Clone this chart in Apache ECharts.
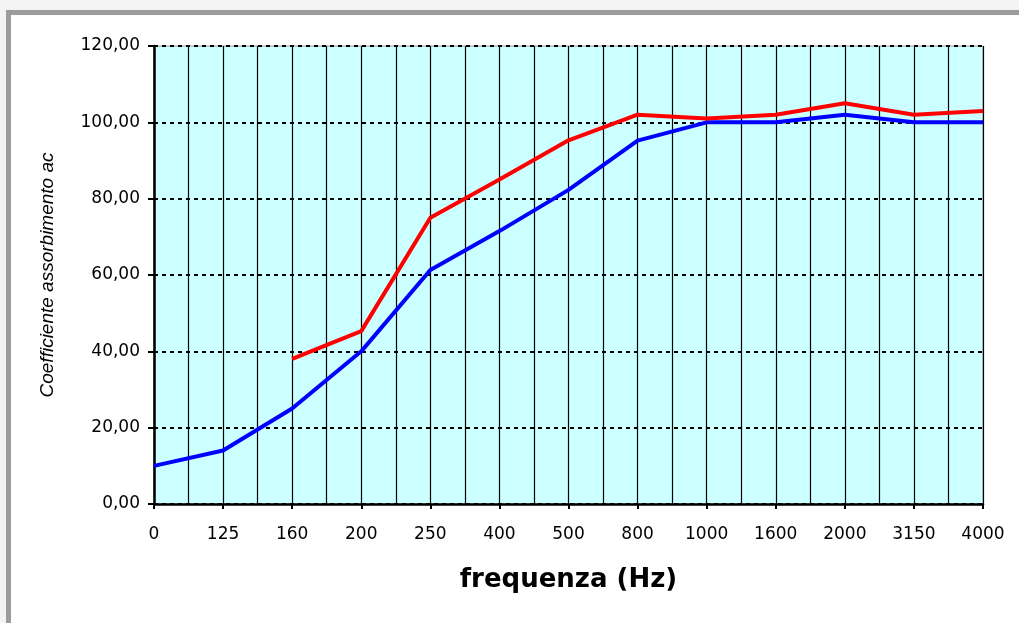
<!DOCTYPE html>
<html>
<head>
<meta charset="utf-8">
<script src="https://cdn.jsdelivr.net/npm/echarts@6/dist/echarts.min.js"></script>
<style>
  html, body { margin: 0; padding: 0; width: 1019px; height: 623px; overflow: hidden; background: #f3f3f3; }
  #frame { position: absolute; left: 6px; top: 10px; width: 1100px; height: 700px; background: #ffffff;
           border: 5px solid #9c9c9c; box-sizing: border-box; }
  #chart { position: absolute; left: 0; top: 0; width: 1019px; height: 623px; }
</style>
</head>
<body>
<div id="frame"></div>
<div id="chart"></div>
<script>
const categories = ['0', '125', '160', '200', '250', '400', '500', '800', '1000', '1600', '2000', '3150', '4000'];
const blueValues = [10, 14, 25, 40, 61.3, 71.5, 82.3, 95.2, 100, 100, 102, 100, 100];
const redValues  = [null, null, 38, 45.3, 75, 85, 95.3, 102, 101, 102, 105, 102, 103];
const yMin = 0, yMax = 120, yStep = 20;

const toPairs = arr => arr.map((v, i) => [i, v]);

const chart = echarts.init(document.getElementById('chart'), null, { renderer: 'canvas' });
chart.setOption({
  backgroundColor: 'transparent',
  animation: false,
  grid: { left: 154, top: 46, right: 36, bottom: 119, show: true, backgroundColor: '#CCFFFF', borderColor: '#a0a0a0', borderWidth: 1 },
  xAxis: {
    type: 'value', min: 0, max: categories.length - 1, interval: 1,
    name: 'frequenza (Hz)', nameLocation: 'middle', nameGap: 63,
    nameTextStyle: { fontFamily: 'DejaVu Sans', fontWeight: 'bold', fontSize: 26, color: '#000' },
    axisLine: { show: true, onZero: false, lineStyle: { color: '#000', width: 2.5 } },
    axisTick: { show: true, inside: false, length: 5, lineStyle: { color: '#000', width: 2 } },
    axisLabel: { margin: 22, fontFamily: 'DejaVu Sans', fontSize: 17, color: '#000',
      formatter: v => (Number.isInteger(v) ? categories[v] : '') },
    splitLine: { show: true, lineStyle: { color: '#000', width: 1.2, type: 'solid' } },
    minorTick: { show: false, splitNumber: 2 },
    minorSplitLine: { show: true, lineStyle: { color: '#000', width: 1.2, type: 'solid' } }
  },
  yAxis: {
    type: 'value', min: yMin, max: yMax, interval: yStep,
    name: 'Coefficiente assorbimento ac', nameLocation: 'middle', nameGap: 97, nameRotate: 90,
    nameTextStyle: { fontFamily: 'Liberation Sans', fontStyle: 'italic', fontSize: 19, color: '#000' },
    axisLine: { show: true, lineStyle: { color: '#000', width: 2.5 } },
    axisTick: { show: true, inside: false, length: 6, lineStyle: { color: '#000', width: 2 } },
    axisLabel: { margin: 14, fontFamily: 'DejaVu Sans', fontSize: 17, color: '#000',
      formatter: v => v.toFixed(2).replace('.', ',') },
    splitLine: { show: true, lineStyle: { color: '#000', width: 2, type: [4, 4] } }
  },
  series: [
    { type: 'line', data: toPairs(blueValues), symbol: 'none', lineStyle: { color: '#0000FF', width: 4 }, z: 3 },
    { type: 'line', data: toPairs(redValues), symbol: 'none', connectNulls: false, lineStyle: { color: '#FF0000', width: 4 }, z: 4 }
  ]
});
</script>
</body>
</html>
